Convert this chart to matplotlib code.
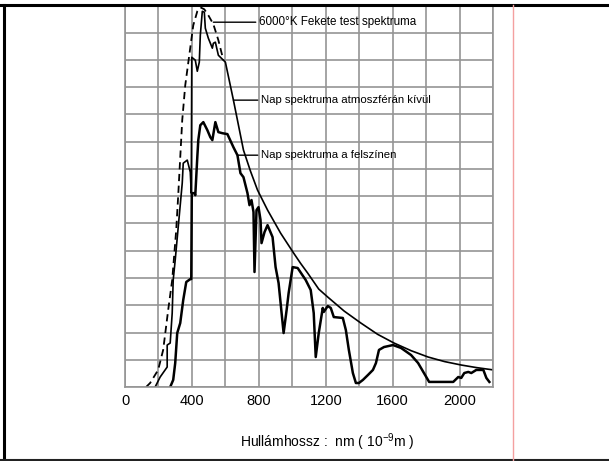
import matplotlib
matplotlib.use("Agg")
import matplotlib.pyplot as plt
from matplotlib.lines import Line2D

plt.rcParams['font.family'] = ['Liberation Sans', 'DejaVu Sans']
plt.rcParams['mathtext.fontset'] = 'custom'
plt.rcParams['mathtext.rm'] = 'Liberation Sans'
plt.rcParams['mathtext.it'] = 'Liberation Sans'

# Blackbody 6000 K (dashed)
bb_wl = [126, 150, 198, 228, 258, 282, 306, 318, 342, 360, 384, 408, 432, 450,
         474, 498, 528, 558, 588]
bb_val = [0, 0.022, 0.094, 0.204, 0.424, 0.589, 0.864, 1.056, 1.469, 1.661,
          1.826, 1.991, 2.068, 2.09, 2.079, 2.046, 1.997, 1.909, 1.799]

# Sun spectrum outside atmosphere
out_wl = [180, 210, 252, 252, 270, 282, 288, 300, 342, 348, 372, 390, 396, 399,
          420, 432, 444, 450, 462, 474, 480, 498, 522, 528, 540, 558, 600, 648,
          708, 750, 792, 852, 930, 1008, 1050, 1092, 1125, 1158, 1212, 1310, 1410,
          1510, 1608, 1710, 1812, 1910, 2010, 2100, 2202]
out_val = [0, 0.055, 0.11, 0.231, 0.242, 0.407, 0.589, 0.699, 1.122, 1.232,
           1.249, 1.183, 1.067, 1.815, 1.799, 1.738, 1.788, 1.936, 2.068, 2.063,
           1.975, 1.92, 1.865, 1.892, 1.898, 1.826, 1.788, 1.579, 1.304, 1.188,
           1.084, 0.974, 0.847, 0.737, 0.68, 0.627, 0.583, 0.539, 0.495, 0.418,
           0.352, 0.29, 0.242, 0.2, 0.165, 0.14, 0.121, 0.107, 0.094]

# Sun spectrum at the surface
sur_wl = [270, 288, 300, 312, 330, 348, 366, 390, 396, 399, 414, 420, 432, 438,
          450, 468, 492, 510, 522, 540, 558, 582, 612, 648, 672, 690, 708, 732,
          744, 756, 768, 774, 786, 798, 810, 816, 834, 852, 882, 900, 918, 948,
          966, 978, 1002, 1032, 1080, 1110, 1128, 1140, 1158, 1182, 1188, 1212,
          1230, 1248, 1302, 1320, 1338, 1362, 1380, 1398, 1422, 1452, 1482, 1500,
          1518, 1548, 1602, 1650, 1710, 1752, 1818, 1962, 1992, 2010, 2028, 2052,
          2070, 2100, 2142, 2160, 2178]
sur_val = [0, 0.039, 0.132, 0.297, 0.352, 0.479, 0.578, 0.594, 0.594, 1.067,
           1.067, 1.056, 1.265, 1.359, 1.441, 1.458, 1.414, 1.375, 1.359, 1.458,
           1.403, 1.397, 1.392, 1.32, 1.276, 1.177, 1.155, 1.067, 1.001, 1.029,
           0.963, 0.633, 0.974, 0.99, 0.919, 0.792, 0.853, 0.891, 0.825, 0.66,
           0.572, 0.297, 0.424, 0.517, 0.66, 0.655, 0.589, 0.534, 0.407, 0.165,
           0.297, 0.435, 0.413, 0.446, 0.435, 0.385, 0.38, 0.314, 0.204, 0.077,
           0.022, 0.022, 0.039, 0.066, 0.094, 0.132, 0.204, 0.22, 0.231, 0.215,
           0.176, 0.132, 0.028, 0.028, 0.055, 0.05, 0.077, 0.083, 0.077, 0.094,
           0.094, 0.05, 0.028]

xticks = [0, 400, 800, 1200, 1600, 2000]
label_bb = "6000°K Fekete test spektruma"
label_out = "Nap spektruma atmoszférán kívül"
label_sur = "Nap spektruma a felszínen"
xlabel = r"Hullámhossz :  nm ( 10$^{-9}$m )"

fig = plt.figure(figsize=(6.09, 4.61), dpi=100)
ax = fig.add_axes([0.2053, 0.1605, 0.6043, 0.8276])

ax.plot(bb_wl, bb_val, color='black', lw=1.3, ls=(0, (4, 2.5)))
ax.plot(out_wl, out_val, color='black', lw=1.2)
ax.plot(sur_wl, sur_val, color='black', lw=1.8)

ax.set_xlim(0, 2200)
ax.set_ylim(0, 2.1)
ax.set_xticks(range(0, 2201, 200), minor=True)
ax.set_xticks(xticks)
ax.set_xticklabels([str(t) for t in xticks], fontsize=10.5)
ax.set_yticks([i * 0.15 for i in range(15)])
ax.set_yticklabels([])
ax.tick_params(which='both', length=0, pad=5)
ax.grid(True, which='both', color='#959595', lw=1.2)
ax.set_axisbelow(True)
for s in ax.spines.values():
    s.set_color('#959595')
    s.set_linewidth(1.2)

fig.text(0.538, 0.041, xlabel, fontsize=10, ha='center', va='center')

ann = dict(arrowstyle='-', color='black', lw=1.0, shrinkA=0, shrinkB=0)
ax.annotate(label_bb, xy=(528, 2.008), xytext=(798, 2.008), fontsize=8.4,
            va='center', ha='left', arrowprops=ann)
ax.annotate(label_out, xy=(648, 1.579), xytext=(810, 1.579), fontsize=8.2,
            va='center', ha='left', arrowprops=ann)
ax.annotate(label_sur, xy=(672, 1.276), xytext=(810, 1.276), fontsize=8.2,
            va='center', ha='left', arrowprops=ann)

# page frame lines
fig.add_artist(Line2D([0.007, 0.007], [0.0, 0.989], color='black', lw=2.2))
fig.add_artist(Line2D([0.0, 1.0], [0.989, 0.989], color='black', lw=2.2))
fig.add_artist(Line2D([0.0, 1.0], [0.002, 0.002], color='#222222', lw=1.5))
fig.add_artist(Line2D([0.8424, 0.8424], [0.0, 0.989], color='#f4a0a0', lw=1.0))

fig.savefig("out.png", dpi=100)
